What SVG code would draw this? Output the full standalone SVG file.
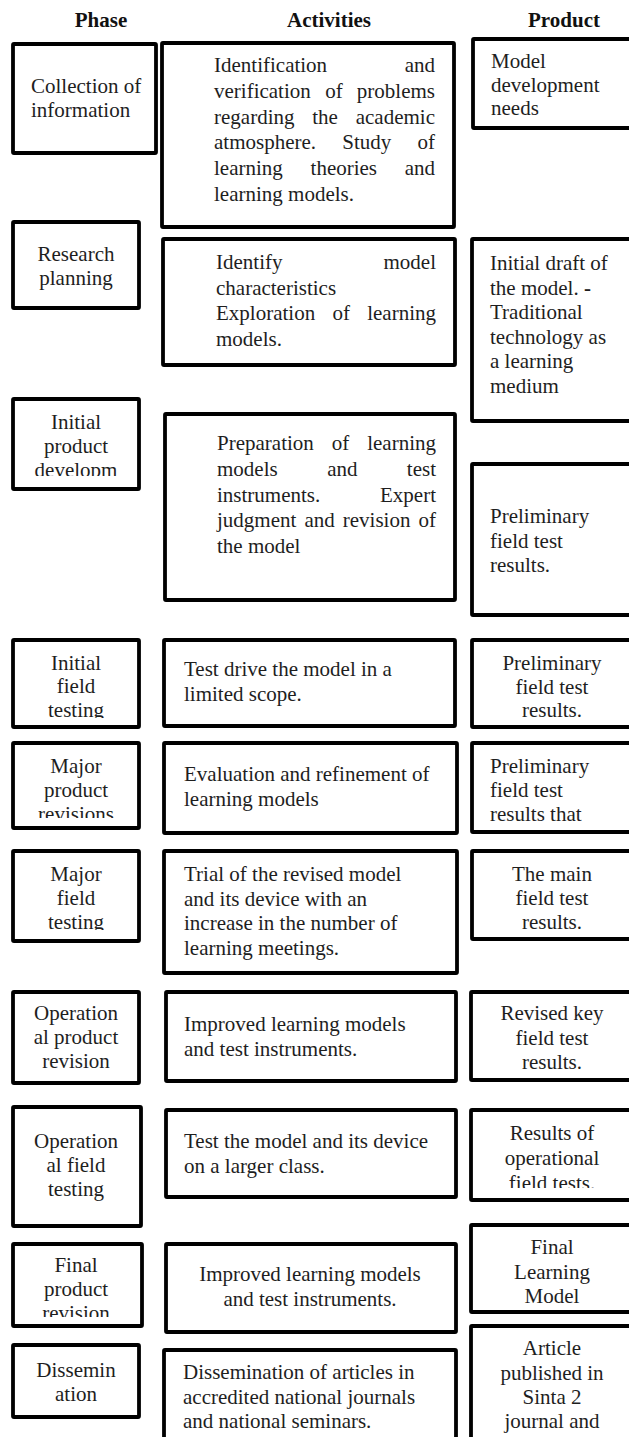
<svg xmlns="http://www.w3.org/2000/svg" width="629" height="1437" viewBox="0 0 629 1437">
<style>
.bx{fill:#fff;stroke:#000;stroke-width:3.8;rx:1}
text{font-family:"Liberation Serif","Times New Roman",serif;font-size:21px;fill:#1e1e1e}
.h{font-weight:bold;text-anchor:middle;fill:#111}
.c{text-anchor:middle}
</style>
<defs>
<clipPath id="cP3"><rect x="0" y="380" width="160" height="96"/></clipPath>
<clipPath id="cP4"><rect x="0" y="620" width="160" height="98"/></clipPath>
<clipPath id="cP5"><rect x="0" y="730" width="160" height="88"/></clipPath>
<clipPath id="cP6"><rect x="0" y="840" width="160" height="90"/></clipPath>
<clipPath id="cR8"><rect x="460" y="1100" width="169" height="88"/></clipPath>
<clipPath id="cP9"><rect x="0" y="1230" width="160" height="87"/></clipPath>
</defs>
<rect width="629" height="1437" fill="#fff"/>
<g id="headers">
<text class="h" x="101" y="27">Phase</text>
<text class="h" x="329" y="27">Activities</text>
<text class="h" x="564" y="27">Product</text>
</g>
<g id="connectors"/>

<g id="phase-1"><rect class="bx" x="13" y="44" width="143" height="109"/>
<text x="31" y="93">Collection of</text><text x="31" y="117">information</text></g>
<g id="activity-1"><rect class="bx" x="162" y="43" width="292" height="184"/>
<text y="72"><tspan x="214">Identification</tspan><tspan x="435" text-anchor="end">and</tspan></text>
<text y="98"><tspan x="214">verification</tspan><tspan x="333.9" text-anchor="middle">of</tspan><tspan x="435" text-anchor="end">problems</tspan></text>
<text y="124"><tspan x="214">regarding</tspan><tspan x="325.1" text-anchor="middle">the</tspan><tspan x="435" text-anchor="end">academic</tspan></text>
<text y="149"><tspan x="214">atmosphere.</tspan><tspan x="366.8" text-anchor="middle">Study</tspan><tspan x="435" text-anchor="end">of</tspan></text>
<text y="175"><tspan x="214">learning</tspan><tspan x="343.8" text-anchor="middle">theories</tspan><tspan x="435" text-anchor="end">and</tspan></text>
<text x="214" y="201">learning models.</text></g>
<g id="product-1"><rect class="bx" x="473" y="39" width="170" height="89"/>
<text x="491" y="68">Model</text><text x="491" y="92">development</text><text x="491" y="115">needs</text></g>

<g id="phase-2"><rect class="bx" x="13" y="222" width="126" height="86"/>
<text class="c" x="76" y="261">Research</text><text class="c" x="76" y="285">planning</text></g>
<g id="activity-2"><rect class="bx" x="163" y="239" width="292" height="126"/>
<text y="269"><tspan x="216">Identify</tspan><tspan x="436" text-anchor="end">model</tspan></text>
<text x="216" y="294.5">characteristics</text>
<text y="320"><tspan x="216">Exploration</tspan><tspan x="341.2" text-anchor="middle">of</tspan><tspan x="436" text-anchor="end">learning</tspan></text>
<text x="216" y="345.5">models.</text></g>
<g id="product-2"><rect class="bx" x="472" y="239" width="170" height="182"/>
<text x="490" y="270">Initial draft of</text>
<text x="490" y="295">the model. <tspan font-weight="bold">-</tspan></text>
<text x="490" y="319">Traditional</text>
<text x="490" y="344">technology as</text>
<text x="490" y="368">a learning</text>
<text x="490" y="393">medium</text></g>

<g id="phase-3"><rect class="bx" x="13" y="399" width="126" height="90"/>
<text class="c" x="76" y="429">Initial</text><text class="c" x="76" y="453">product</text>
<text class="c" x="76" y="477" clip-path="url(#cP3)">developm</text></g>
<g id="activity-3"><rect class="bx" x="165" y="414" width="290" height="186"/>
<text y="450"><tspan x="217">Preparation</tspan><tspan x="340.5" text-anchor="middle">of</tspan><tspan x="436" text-anchor="end">learning</tspan></text>
<text y="476"><tspan x="217">models</tspan><tspan x="342.3" text-anchor="middle">and</tspan><tspan x="436" text-anchor="end">test</tspan></text>
<text y="502"><tspan x="217">instruments.</tspan><tspan x="436" text-anchor="end">Expert</tspan></text>
<text y="527"><tspan x="217">judgment</tspan><tspan x="319.6" text-anchor="middle">and</tspan><tspan x="376.6" text-anchor="middle">revision</tspan><tspan x="436" text-anchor="end">of</tspan></text>
<text x="217" y="553">the model</text></g>
<g id="product-3"><rect class="bx" x="472" y="464" width="170" height="151"/>
<text x="490" y="523">Preliminary</text><text x="490" y="548">field test</text><text x="490" y="572">results.</text></g>

<g id="phase-4"><rect class="bx" x="13" y="640" width="126" height="87"/>
<text class="c" x="76" y="670">Initial</text><text class="c" x="76" y="693">field</text>
<text class="c" x="76" y="717" clip-path="url(#cP4)">testing</text></g>
<g id="activity-4"><rect class="bx" x="164" y="640" width="291" height="86"/>
<text x="184" y="676">Test drive the model in a</text><text x="184" y="701">limited scope.</text></g>
<g id="product-4"><rect class="bx" x="472" y="640" width="170" height="87"/>
<text class="c" x="552" y="670">Preliminary</text><text class="c" x="552" y="694">field test</text><text class="c" x="552" y="717">results.</text></g>

<g id="phase-5"><rect class="bx" x="13" y="743" width="126" height="85"/>
<text class="c" x="76" y="773">Major</text><text class="c" x="76" y="797">product</text>
<text class="c" x="76" y="821" clip-path="url(#cP5)">revisions</text></g>
<g id="activity-5"><rect class="bx" x="164" y="743" width="293" height="90"/>
<text x="184" y="781">Evaluation and refinement of</text><text x="184" y="806">learning models</text></g>
<g id="product-5"><rect class="bx" x="472" y="743" width="170" height="89"/>
<text x="490" y="773">Preliminary</text><text x="490" y="797">field test</text><text x="490" y="821">results that</text></g>

<g id="phase-6"><rect class="bx" x="13" y="851" width="126" height="90"/>
<text class="c" x="76" y="881">Major</text><text class="c" x="76" y="905">field</text>
<text class="c" x="76" y="929" clip-path="url(#cP6)">testing</text></g>
<g id="activity-6"><rect class="bx" x="164" y="851" width="293" height="122"/>
<text x="184" y="881">Trial of the revised model</text><text x="184" y="905.5">and its device with an</text>
<text x="184" y="930">increase in the number of</text><text x="184" y="954.5">learning meetings.</text></g>
<g id="product-6"><rect class="bx" x="472" y="851" width="170" height="88"/>
<text class="c" x="552" y="881">The main</text><text class="c" x="552" y="905">field test</text><text class="c" x="552" y="929">results.</text></g>

<g id="phase-7"><rect class="bx" x="13" y="992" width="126" height="91"/>
<text class="c" x="76" y="1020">Operation</text><text class="c" x="76" y="1044">al product</text><text class="c" x="76" y="1068">revision</text></g>
<g id="activity-7"><rect class="bx" x="166" y="992" width="290" height="89"/>
<text x="184" y="1031">Improved learning models</text><text x="184" y="1056">and test instruments.</text></g>
<g id="product-7"><rect class="bx" x="471" y="992" width="170" height="88"/>
<text class="c" x="552" y="1020">Revised key</text><text class="c" x="552" y="1044.5">field test</text><text class="c" x="552" y="1069">results.</text></g>

<g id="phase-8"><rect class="bx" x="13" y="1107" width="128" height="119"/>
<text class="c" x="76" y="1148">Operation</text><text class="c" x="76" y="1172">al field</text><text class="c" x="76" y="1196">testing</text></g>
<g id="activity-8"><rect class="bx" x="166" y="1110" width="290" height="87"/>
<text x="184" y="1148">Test the model and its device</text><text x="184" y="1173">on a larger class.</text></g>
<g id="product-8"><rect class="bx" x="471" y="1110" width="170" height="90"/>
<text class="c" x="552" y="1140">Results of</text><text class="c" x="552" y="1165">operational</text>
<text class="c" x="552" y="1190" clip-path="url(#cR8)">field tests.</text></g>

<g id="phase-9"><rect class="bx" x="13" y="1244" width="129" height="82"/>
<text class="c" x="76" y="1272">Final</text><text class="c" x="76" y="1296">product</text>
<text class="c" x="76" y="1320" clip-path="url(#cP9)">revision</text></g>
<g id="activity-9"><rect class="bx" x="166" y="1244" width="290" height="88"/>
<text class="c" x="310" y="1281">Improved learning models</text><text class="c" x="310" y="1306">and test instruments.</text></g>
<g id="product-9"><rect class="bx" x="471" y="1225" width="170" height="87"/>
<text class="c" x="552" y="1254">Final</text><text class="c" x="552" y="1279">Learning</text><text class="c" x="552" y="1303">Model</text></g>

<g id="phase-10"><rect class="bx" x="13" y="1345" width="126" height="72"/>
<text class="c" x="76" y="1377">Dissemin</text><text class="c" x="76" y="1401">ation</text></g>
<g id="activity-10"><rect class="bx" x="164" y="1350" width="292" height="110"/>
<text x="183" y="1379">Dissemination of articles in</text><text x="183" y="1404">accredited national journals</text><text x="183" y="1428">and national seminars.</text></g>
<g id="product-10"><rect class="bx" x="471" y="1326" width="170" height="130"/>
<text class="c" x="552" y="1355">Article</text><text class="c" x="552" y="1380">published in</text><text class="c" x="552" y="1404">Sinta 2</text><text class="c" x="552" y="1428">journal and</text></g>
</svg>
